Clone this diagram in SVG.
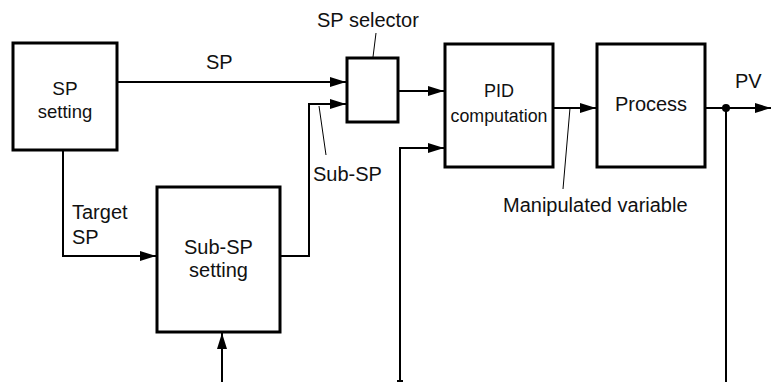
<svg xmlns="http://www.w3.org/2000/svg" width="771" height="382" viewBox="0 0 771 382">
<defs>
<style>
.box{fill:#fff;stroke:#000;stroke-width:3}
.ln{fill:none;stroke:#000;stroke-width:2}
.ld{fill:none;stroke:#000;stroke-width:1}
text{font-family:"Liberation Sans",Arial,sans-serif;font-size:20px;fill:#111}
.c{text-anchor:middle}
</style>
<marker id="ah" markerUnits="userSpaceOnUse" markerWidth="18" markerHeight="12" refX="16" refY="5" orient="auto">
<path d="M0,0 L16,5 L0,10 Z" fill="#000"/>
</marker>
</defs>
<rect width="771" height="382" fill="#fff"/>
<g id="connectors">
<line class="ln" x1="117" y1="82" x2="346" y2="82" marker-end="url(#ah)"/>
<polyline class="ln" points="280,256 309,256 309,104 346,104" marker-end="url(#ah)"/>
<polyline class="ln" points="63,150 63,256 156,256" marker-end="url(#ah)"/>
<line class="ln" x1="398" y1="91" x2="444" y2="91" marker-end="url(#ah)"/>
<polyline class="ln" points="400,382 400,148 444,148" marker-end="url(#ah)"/>
<line class="ln" x1="397" y1="381" x2="403" y2="381"/>
<line class="ln" x1="553" y1="108" x2="596" y2="108" marker-end="url(#ah)"/>
<line class="ln" x1="705" y1="108" x2="771" y2="108" marker-end="url(#ah)"/>
<line class="ln" x1="726" y1="108" x2="726" y2="382"/>
<circle cx="726" cy="108" r="4" fill="#000"/>
<line class="ln" x1="222" y1="382" x2="222" y2="333" marker-end="url(#ah)"/>
<line class="ld" x1="376" y1="33" x2="373" y2="57"/>
<line class="ld" x1="319" y1="106" x2="326" y2="155"/>
<line class="ld" x1="570" y1="108" x2="563" y2="189"/>
</g>
<g id="sp-setting">
<rect class="box" x="13" y="43" width="104" height="107"/>
<text class="c" x="65" y="95" style="font-size:19px">SP</text>
<text class="c" x="65" y="118" style="font-size:18.5px">setting</text>
</g>
<g id="sp-selector">
<rect class="box" x="347" y="58" width="51" height="64"/>
<text x="317" y="27">SP selector</text>
</g>
<g id="pid">
<rect class="box" x="445" y="44" width="108" height="123"/>
<text class="c" x="499" y="97" style="font-size:18px">PID</text>
<text class="c" x="499" y="122" style="font-size:17.8px">computation</text>
</g>
<g id="process">
<rect class="box" x="597" y="44" width="108" height="123"/>
<text class="c" x="651" y="111">Process</text>
</g>
<g id="sub-sp-setting">
<rect class="box" x="157" y="187" width="123" height="145"/>
<text class="c" x="218.5" y="254">Sub-SP</text>
<text class="c" x="218.5" y="277">setting</text>
</g>
<g id="labels">
<text x="206" y="69">SP</text>
<text x="313" y="181">Sub-SP</text>
<text x="72" y="219">Target</text>
<text x="72" y="244">SP</text>
<text x="503" y="212">Manipulated variable</text>
<text x="735" y="88">PV</text>
</g>
</svg>
